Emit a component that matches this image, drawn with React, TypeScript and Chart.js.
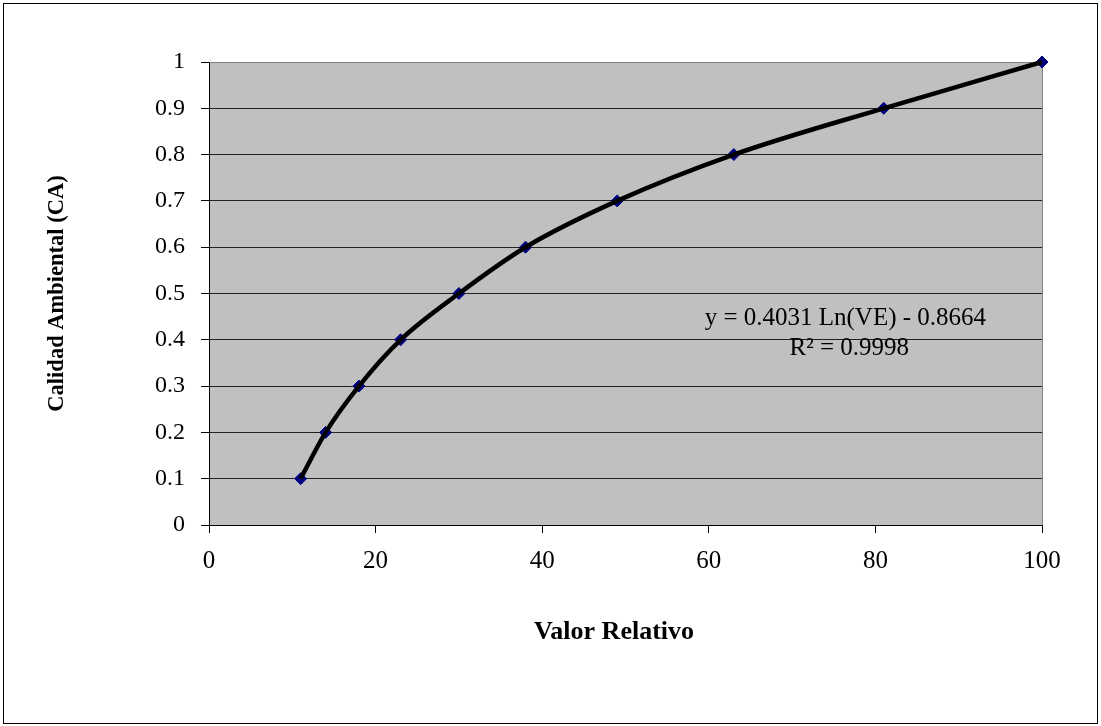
import React, { useEffect, useRef } from 'react';
import { Chart, registerables } from 'chart.js';

Chart.register(...registerables);

// ---- data ----
const valorRelativo = [11, 14, 18, 23, 30, 38, 49, 63, 81, 100];
const calidadAmbiental = [0.1, 0.2, 0.3, 0.4, 0.5, 0.6, 0.7, 0.8, 0.9, 1.0];
const xTickLabels = ['0', '20', '40', '60', '80', '100'];
const yTickLabels = ['0', '0.1', '0.2', '0.3', '0.4', '0.5', '0.6', '0.7', '0.8', '0.9', '1'];
const equationLines = ['y = 0.4031 Ln(VE) - 0.8664', 'R\u00B2 = 0.9998'];
const equationAnchorsX = [59.5, 69.7];
const equationAnchorsY = [0.432, 0.367];
const xAxisTitle = 'Valor Relativo';
const yAxisTitle = 'Calidad Ambiental (CA)';

const FONT = "'Liberation Serif', 'Times New Roman', serif";

const decorPlugin = {
  id: 'decor',
  beforeDraw(chart: any) {
    const { ctx, chartArea: a } = chart;
    ctx.save();
    ctx.fillStyle = '#ffffff';
    ctx.fillRect(0, 0, chart.width, chart.height);
    ctx.strokeStyle = '#000000';
    ctx.lineWidth = 1;
    ctx.strokeRect(3.5, 3.5, 1094, 720);
    ctx.fillStyle = '#C0C0C0';
    ctx.fillRect(a.left, a.top, a.right - a.left, a.bottom - a.top);
    ctx.restore();
  },
  beforeDatasetsDraw(chart: any) {
    const { ctx, chartArea: a } = chart;
    ctx.save();
    ctx.strokeStyle = '#808080';
    ctx.lineWidth = 1;
    ctx.beginPath();
    ctx.moveTo(Math.round(a.left) + 0.5, Math.round(a.top) + 0.5);
    ctx.lineTo(Math.round(a.right) + 0.5, Math.round(a.top) + 0.5);
    ctx.lineTo(Math.round(a.right) + 0.5, Math.round(a.bottom) + 0.5);
    ctx.stroke();
    ctx.restore();
  },
  afterDatasetsDraw(chart: any) {
    const { ctx } = chart;
    const xs = chart.scales.x;
    const ys = chart.scales.y;
    ctx.save();
    ctx.fillStyle = '#000000';
    ctx.font = `25px ${FONT}`;
    ctx.textAlign = 'left';
    ctx.textBaseline = 'alphabetic';
    equationLines.forEach((t, i) => {
      ctx.fillText(t, xs.getPixelForValue(equationAnchorsX[i]), ys.getPixelForValue(equationAnchorsY[i]));
    });
    // x axis title (slightly left of the plot centre, as in the original)
    ctx.font = `bold 26px ${FONT}`;
    ctx.textAlign = 'center';
    ctx.textBaseline = 'middle';
    ctx.fillText(xAxisTitle, 614, 632);
    ctx.restore();
  },
};

export default function App() {
  const ref = useRef<HTMLCanvasElement | null>(null);

  useEffect(() => {
    if (!ref.current) return;
    const points = valorRelativo.map((x, i) => ({ x, y: calidadAmbiental[i] }));
    const chart = new Chart(ref.current, {
      type: 'scatter',
      data: {
        datasets: [
          {
            label: 'tendencia',
            data: points,
            showLine: true,
            borderColor: '#000000',
            borderWidth: 4.5,
            cubicInterpolationMode: 'monotone',
            pointRadius: 0,
            pointHoverRadius: 0,
            clip: false,
          } as any,
          {
            label: 'CA',
            data: points,
            showLine: false,
            pointStyle: 'rectRot',
            pointRadius: 6,
            backgroundColor: '#000080',
            borderColor: '#000080',
            borderWidth: 1,
            clip: false,
          } as any,
        ],
      },
      options: {
        animation: false,
        responsive: true,
        maintainAspectRatio: false,
        events: [],
        layout: { padding: { left: 0, top: 62, right: 59, bottom: 0 } },
        plugins: {
          legend: { display: false },
          tooltip: { enabled: false },
        },
        scales: {
          x: {
            type: 'linear',
            min: 0,
            max: 100,
            afterFit: (s: any) => {
              s.height = 201;
            },
            ticks: {
              stepSize: 20,
              color: '#000',
              font: { family: FONT, size: 25 },
              padding: 13,
              maxRotation: 0,
              callback: (_v: any, i: number) => xTickLabels[i],
            },
            grid: {
              drawOnChartArea: false,
              drawTicks: true,
              tickLength: 8,
              tickColor: '#000',
            },
            border: { display: true, color: '#000', width: 1 },
            title: { display: false },
          },
          y: {
            type: 'linear',
            min: 0,
            max: 1,
            afterFit: (s: any) => {
              s.width = 209;
            },
            ticks: {
              stepSize: 0.1,
              color: '#000',
              font: { family: FONT, size: 24 },
              padding: 16,
              callback: (_v: any, i: number) => yTickLabels[i],
            },
            grid: {
              drawOnChartArea: true,
              drawTicks: true,
              tickLength: 8,
              tickColor: '#000',
              color: (c: any) => (c.tick && c.tick.value === 1 ? '#808080' : '#222222'),
              lineWidth: 1,
            },
            border: { display: true, color: '#000', width: 1 },
            title: {
              display: true,
              text: yAxisTitle,
              color: '#000',
              font: { family: FONT, size: 22.5, weight: 'bold' },
              padding: { top: 44, bottom: 0 },
            },
          },
        },
      },
      plugins: [decorPlugin],
    } as any);
    return () => chart.destroy();
  }, []);

  return (
    <div style={{ position: 'fixed', left: 0, top: 0, width: 1101, height: 726, background: '#fff' }}>
      <canvas ref={ref} />
    </div>
  );
}
